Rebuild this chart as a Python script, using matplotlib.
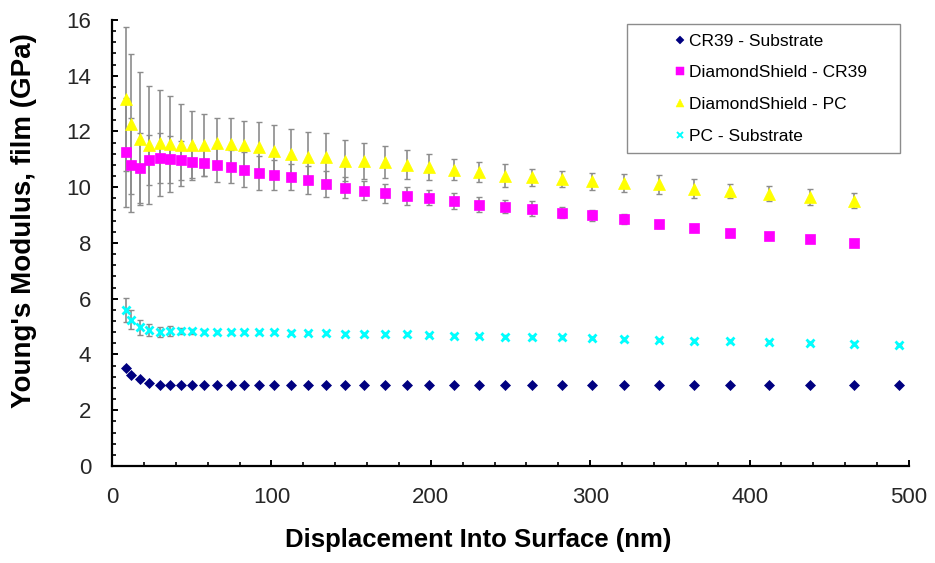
import numpy as np
import matplotlib
matplotlib.use("Agg")
import matplotlib.pyplot as plt
from matplotlib.lines import Line2D
from matplotlib.ticker import MultipleLocator

plt.rcParams['font.family'] = ['Liberation Sans', 'DejaVu Sans']

# displacement into surface (nm), shared by all series
depth = [9, 12, 17.6, 23.4, 30, 36.2, 43, 50.2, 58, 66, 74.4, 82.8, 92.4,
         101.8, 112.3, 122.8, 134.5, 146, 158.3, 171.3, 184.8, 199, 214.4,
         230, 246.5, 263.5, 282.3, 301.3, 321.4, 343, 365, 388, 412, 438,
         465.5, 494]

cr39_sub = [3.52, 3.28, 3.11, 2.99, 2.92, 2.92, 2.91, 2.90, 2.90, 2.90, 2.90,
            2.90, 2.90, 2.90, 2.90, 2.90, 2.90, 2.90, 2.91, 2.91, 2.91, 2.91,
            2.92, 2.92, 2.92, 2.92, 2.92, 2.92, 2.92, 2.92, 2.92, 2.92, 2.92,
            2.92, 2.92, 2.92]
cr39_sub_err = [0.08, 0.06, 0.05, 0.04, 0.03, 0.03, 0.03, 0.03, 0.03, 0.03,
                0.03, 0.03, 0.03, 0.03, 0.03, 0.03, 0.03, 0.03, 0.03, 0.03,
                0.03, 0.03, 0.03, 0.03, 0.03, 0.03, 0.03, 0.03, 0.03, 0.03,
                0.03, 0.03, 0.03, 0.03, 0.03, 0.03]

ds_cr39 = [11.25, 10.81, 10.69, 10.97, 11.05, 11.0, 10.96, 10.92, 10.88, 10.79,
           10.74, 10.63, 10.51, 10.43, 10.36, 10.25, 10.11, 9.98, 9.88, 9.78,
           9.68, 9.62, 9.5, 9.38, 9.30, 9.23, 9.08, 8.99, 8.85, 8.67, 8.55,
           8.36, 8.25, 8.13, 7.99]
ds_cr39_err = [1.95, 1.69, 1.25, 0.89, 0.91, 0.84, 0.71, 0.6, 0.48, 0.6, 0.6,
               0.62, 0.62, 0.54, 0.47, 0.51, 0.47, 0.38, 0.33, 0.33, 0.33, 0.27,
               0.28, 0.27, 0.24, 0.26, 0.2, 0.2, 0.18, 0.12, 0.1, 0.08, 0.05,
               0.05, 0.05]

ds_pc = [13.17, 12.27, 11.74, 11.52, 11.58, 11.55, 11.51, 11.5, 11.52, 11.58,
         11.56, 11.5, 11.43, 11.31, 11.21, 11.1, 11.1, 10.95, 10.94, 10.9,
         10.81, 10.73, 10.63, 10.54, 10.42, 10.35, 10.3, 10.21, 10.14, 10.1,
         9.95, 9.86, 9.77, 9.65, 9.52]
ds_pc_err = [2.58, 2.5, 2.39, 2.12, 1.9, 1.71, 1.48, 1.24, 1.11, 0.92, 0.92,
             0.89, 0.9, 0.93, 0.89, 0.89, 0.83, 0.73, 0.64, 0.58, 0.51, 0.48,
             0.38, 0.36, 0.4, 0.32, 0.3, 0.3, 0.32, 0.33, 0.35, 0.26, 0.27,
             0.3, 0.28]

pc_sub = [5.59, 5.25, 4.97, 4.88, 4.81, 4.83, 4.84, 4.83, 4.81, 4.80, 4.80,
          4.80, 4.79, 4.79, 4.78, 4.77, 4.76, 4.75, 4.73, 4.73, 4.72, 4.70,
          4.67, 4.66, 4.64, 4.62, 4.61, 4.59, 4.55, 4.52, 4.50, 4.47, 4.45,
          4.41, 4.39, 4.34]
pc_sub_err = [0.43, 0.35, 0.27, 0.22, 0.18, 0.18, 0.1, 0.08, 0.07, 0.06, 0.06,
              0.05, 0.05, 0.05, 0.05, 0.05, 0.05, 0.05, 0.05, 0.05, 0.05, 0.05,
              0.05, 0.05, 0.05, 0.05, 0.05, 0.05, 0.05, 0.05, 0.05, 0.05, 0.05,
              0.05, 0.05, 0.05]

labels = ['CR39 - Substrate', 'DiamondShield - CR39', 'DiamondShield - PC',
          'PC - Substrate']

fig = plt.figure(figsize=(9.35, 5.63), dpi=100)
ax = fig.add_axes([0.1198, 0.1723, 0.8524, 0.7922])

series = [
    (cr39_sub, cr39_sub_err, dict(marker='D', color='#000080', ms=5)),
    (ds_cr39, ds_cr39_err, dict(marker='s', color='#FF00FF', ms=7)),
    (ds_pc, ds_pc_err, dict(marker='^', color='#FFFF00', ms=8)),
    (pc_sub, pc_sub_err, dict(marker='x', color='#00FFFF', ms=5.5, mew=2.0)),
]

handles = []
for (vals, errs, st), lab in zip(series, labels):
    x = depth[:len(vals)]
    cont = ax.errorbar(x, vals, yerr=errs, fmt='none', ecolor='#8c8c8c',
                       elinewidth=1.2, capsize=2.5, capthick=1.0, zorder=2)
    for cap in cont[1]:
        cap.set_color('#333333')
    ax.plot(x, vals, linestyle='none', marker=st['marker'], ms=st['ms'],
            mew=st.get('mew', 0.5), color=st['color'], mec=st['color'],
            zorder=3)
    handles.append(Line2D([], [], linestyle='none', marker=st['marker'],
                          ms=st['ms'] * 0.75, mew=st.get('mew', 0.5) * 0.7,
                          color=st['color'], mec=st['color']))

ax.set_xlim(0, 500)
ax.set_ylim(0, 16)
ax.xaxis.set_major_locator(MultipleLocator(100))
ax.xaxis.set_minor_locator(MultipleLocator(20))
ax.yaxis.set_major_locator(MultipleLocator(2))
ax.yaxis.set_minor_locator(MultipleLocator(0.4))

for side in ['top', 'right']:
    ax.spines[side].set_visible(False)
for side in ['left', 'bottom']:
    ax.spines[side].set_linewidth(1.6)

ax.tick_params(which='major', direction='in', length=4.5, width=1.4,
               labelsize=16, pad=15, colors='black')
ax.tick_params(which='minor', direction='in', length=3, width=1.2)
for lbl in ax.get_xticklabels() + ax.get_yticklabels():
    lbl.set_color('#262626')

ax.set_xlabel('Displacement Into Surface (nm)', fontsize=18.5, fontweight='bold')
ax.set_ylabel("Young's Modulus, film (GPa)", fontsize=20, fontweight='bold')
ax.xaxis.set_label_coords(0.459, -0.14)
ax.yaxis.set_label_coords(-0.094, 0.55)

leg = ax.legend(handles, labels, loc='upper left',
                bbox_to_anchor=(0.646, 0.70, 0.343, 0.291), mode='expand',
                borderaxespad=0, fontsize=12.5, numpoints=1,
                handlelength=5.0, handletextpad=-2.0, borderpad=0.55,
                labelspacing=0.95, fancybox=False, framealpha=1,
                edgecolor='#8c8c8c')
leg.get_frame().set_linewidth(1.0)

fig.savefig('out.png', dpi=100)
